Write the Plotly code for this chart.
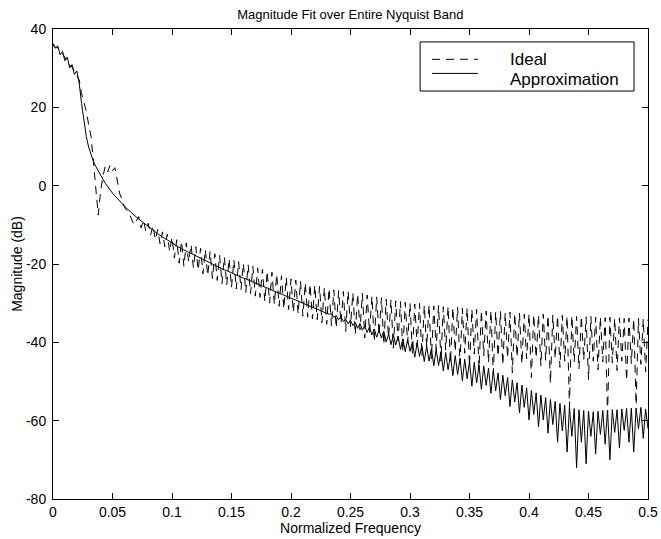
import numpy as np
import plotly.graph_objects as go

# frequency grid (normalized, 0 .. 0.5, step 0.002)
freq = np.linspace(0.0, 0.5, 251)

ideal_db = [
    36.3, 35.3, 35.2, 34.2, 33.8, 32.6, 32.3, 30.9, 30.2, 29.2,
    28.0, 27.0, 23.5, 21.0, 19.0, 15.5, 12.5, 6.0, -1.0, -7.5,
    -1.5, 2.5, 5.0, 3.5, 5.3, 3.8, 4.6, 1.0, -2.0, -3.5,
    -5.5, -6.3, -7.0, -8.5, -10.0, -9.0, -7.9, -10.8, -8.8, -11.6,
    -9.6, -12.6, -10.2, -13.8, -11.2, -14.9, -11.8, -15.6, -12.4, -16.8,
    -13.2, -18.5, -13.8, -19.8, -14.2, -20.6, -14.6, -19.5, -15.0, -21.0,
    -15.6, -21.6, -16.0, -22.5, -16.3, -23.0, -16.8, -23.8, -17.4, -24.2,
    -17.8, -25.0, -18.2, -25.4, -18.6, -26.0, -18.9, -26.4, -19.4, -26.5,
    -19.8, -27.3, -20.2, -27.6, -20.6, -28.2, -21.0, -28.5, -21.4, -29.6,
    -21.8, -30.0, -22.1, -30.4, -22.6, -30.8, -23.0, -31.5, -23.4, -31.6,
    -23.8, -32.4, -24.1, -32.8, -24.4, -33.3, -24.8, -33.6, -25.1, -34.0,
    -25.4, -34.2, -25.7, -35.0, -26.0, -35.4, -26.2, -35.8, -26.6, -36.4,
    -26.8, -35.2, -27.0, -37.2, -26.9, -36.0, -27.3, -38.0, -27.6, -36.8,
    -27.5, -38.9, -27.9, -37.5, -28.2, -39.8, -28.4, -38.2, -28.6, -40.6,
    -29.0, -38.8, -29.1, -41.5, -29.4, -39.6, -29.6, -42.4, -29.8, -40.2,
    -30.0, -43.0, -30.2, -40.8, -30.1, -43.6, -30.5, -41.2, -30.4, -44.2,
    -30.7, -41.8, -30.6, -44.8, -30.9, -42.0, -30.8, -45.3, -31.1, -42.4,
    -31.0, -45.6, -31.3, -42.8, -31.2, -46.2, -31.5, -43.0, -31.6, -46.8,
    -31.8, -43.4, -32.0, -45.2, -31.9, -48.0, -32.2, -43.6, -32.1, -45.8,
    -32.4, -44.0, -32.3, -47.8, -32.6, -43.8, -32.5, -45.5, -32.8, -44.2,
    -32.7, -49.0, -32.9, -44.0, -33.0, -46.0, -32.8, -44.6, -33.1, -50.5,
    -33.0, -44.2, -33.2, -46.4, -33.1, -44.8, -33.3, -56.5, -33.2, -45.0,
    -33.4, -46.8, -33.3, -44.6, -33.5, -49.5, -33.4, -44.8, -33.6, -47.0,
    -33.5, -45.0, -33.7, -58.5, -33.6, -45.2, -33.8, -47.2, -33.7, -44.8,
    -33.9, -49.8, -33.8, -45.4, -34.0, -56.0, -33.9, -45.6, -34.0, -47.5,
    -34.2,
]

approx_db = [
    36.0, 35.1, 35.7, 33.4, 34.3, 31.9, 32.8, 30.1, 30.9, 28.4,
    29.3, 26.2, 21.0, 16.0, 12.5, 9.8, 7.8, 6.2, 4.9, 3.7,
    2.6, 1.6, 0.6, -0.3, -1.1, -1.9, -2.6, -3.3, -4.0, -4.6,
    -5.2, -5.8, -6.4, -6.9, -7.5, -8.0, -8.5, -9.0, -9.5, -10.0,
    -10.5, -11.0, -11.4, -11.9, -12.3, -12.7, -13.1, -13.5, -13.9, -14.3,
    -14.7, -15.0, -15.4, -15.7, -16.1, -16.4, -16.7, -17.1, -17.4, -17.7,
    -18.0, -18.3, -18.6, -18.9, -19.2, -19.5, -19.8, -20.1, -20.4, -20.6,
    -20.9, -21.2, -21.5, -21.7, -22.0, -22.3, -22.5, -22.8, -23.0, -23.3,
    -23.6, -23.8, -24.1, -24.3, -24.6, -24.9, -25.1, -25.4, -25.6, -25.9,
    -26.1, -26.4, -26.7, -26.9, -27.2, -27.4, -27.7, -27.9, -28.2, -28.5,
    -28.7, -29.0, -29.2, -29.5, -29.7, -30.0, -30.3, -30.5, -30.8, -31.0,
    -31.3, -31.5, -31.8, -32.0, -32.3, -32.6, -32.8, -32.7, -33.6, -33.2,
    -34.2, -33.5, -34.7, -34.1, -35.3, -34.4, -35.7, -34.9, -36.4, -35.2,
    -36.9, -35.8, -37.5, -36.0, -38.1, -36.6, -38.7, -36.9, -38.9, -37.2,
    -39.9, -37.9, -40.6, -38.1, -40.7, -38.4, -41.8, -39.1, -42.4, -39.3,
    -42.3, -39.9, -43.8, -40.1, -43.6, -40.8, -44.9, -40.9, -44.8, -41.6,
    -46.0, -41.8, -45.9, -42.4, -47.3, -42.6, -47.0, -43.3, -48.5, -43.4,
    -48.2, -44.1, -49.8, -44.3, -49.3, -44.9, -51.2, -45.1, -50.4, -45.8,
    -52.0, -46.0, -51.0, -46.6, -53.0, -47.2, -52.4, -47.8, -54.6, -48.4,
    -53.6, -49.0, -56.4, -49.6, -55.2, -50.3, -58.0, -50.9, -56.6, -51.6,
    -59.8, -52.3, -58.4, -52.9, -61.6, -53.5, -59.8, -54.1, -63.2, -54.6,
    -61.0, -55.1, -65.5, -55.6, -62.6, -56.1, -68.0, -56.5, -64.0, -56.9,
    -72.0, -57.2, -65.5, -57.4, -71.0, -57.6, -64.0, -57.7, -68.5, -57.6,
    -63.5, -57.4, -66.0, -57.3, -70.0, -57.2, -63.0, -57.2, -67.0, -57.0,
    -62.5, -56.9, -65.5, -56.8, -68.0, -56.8, -62.0, -56.6, -64.5, -57.0,
    -62.0,
]

series_names = ["Ideal", "Approximation"]

x_tickvals = [0, 0.05, 0.1, 0.15, 0.2, 0.25, 0.3, 0.35, 0.4, 0.45, 0.5]
x_ticktext = ["0", "0.05", "0.1", "0.15", "0.2", "0.25", "0.3", "0.35", "0.4", "0.45", "0.5"]
y_tickvals = [-80, -60, -40, -20, 0, 20, 40]
y_ticktext = ["-80", "-60", "-40", "-20", "0", "20", "40"]

FONT = "Liberation Sans, Arial, Helvetica, sans-serif"
DASH = "8px,6px"

fig = go.Figure()
fig.add_trace(go.Scatter(
    x=freq, y=ideal_db, mode="lines", name=series_names[0],
    line=dict(color="black", width=1, dash=DASH), showlegend=False,
))
fig.add_trace(go.Scatter(
    x=freq, y=approx_db, mode="lines", name=series_names[1],
    line=dict(color="black", width=1), showlegend=False,
))

axis_common = dict(
    showline=True, linecolor="black", linewidth=1, mirror="ticks",
    ticks="inside", ticklen=6, tickcolor="black", tickwidth=1,
    showgrid=False, zeroline=False, automargin=False,
    tickfont=dict(family=FONT, size=14, color="black"),
)

# MATLAB-style boxed legend (top right, inside the axes)
lx0, lx1, ly0, ly1 = 0.617, 0.9765, 0.868, 0.9725
shapes = [
    dict(type="rect", xref="paper", yref="paper", x0=lx0, x1=lx1, y0=ly0, y1=ly1,
         line=dict(color="black", width=1), fillcolor="white", layer="above"),
    dict(type="line", xref="paper", yref="paper", x0=0.637, x1=0.714, y0=0.9355, y1=0.9355,
         line=dict(color="black", width=1, dash=DASH), layer="above"),
    dict(type="line", xref="paper", yref="paper", x0=0.637, x1=0.714, y0=0.9055, y1=0.9055,
         line=dict(color="black", width=1), layer="above"),
]
annotations = [
    dict(text=series_names[0], xref="paper", yref="paper", x=0.767, y=(499 - 59.5) / 470,
         xanchor="left", yanchor="middle", showarrow=False, borderpad=0,
         font=dict(family=FONT, size=17, color="black")),
    dict(text=series_names[1], xref="paper", yref="paper", x=0.767, y=(499 - 79.5) / 470,
         xanchor="left", yanchor="middle", showarrow=False, borderpad=0,
         font=dict(family=FONT, size=17, color="black")),
]

fig.update_layout(
    width=661, height=539,
    margin=dict(l=53, r=13, t=29, b=40),
    paper_bgcolor="white", plot_bgcolor="white",
    font=dict(family=FONT, color="black"),
    title=dict(text="Magnitude Fit over Entire Nyquist Band",
               x=0.53, xanchor="center", y=1 - 10 / 539, yanchor="top",
               font=dict(family=FONT, size=13, color="black")),
    xaxis=dict(range=[0, 0.5], tickvals=x_tickvals, ticktext=x_ticktext,
               title=dict(text="Normalized Frequency", standoff=4,
                          font=dict(family=FONT, size=14, color="black")),
               **axis_common),
    yaxis=dict(range=[-80, 40], tickvals=y_tickvals, ticktext=y_ticktext,
               ticklabelstandoff=3,
               title=dict(text="Magnitude (dB)", standoff=0,
                          font=dict(family=FONT, size=14, color="black")),
               **axis_common),
    shapes=shapes,
    annotations=annotations,
    showlegend=False,
)

fig.write_html(
    "out.html",
    config={"displayModeBar": False},
    post_script="document.body.style.margin='0px';",
)
